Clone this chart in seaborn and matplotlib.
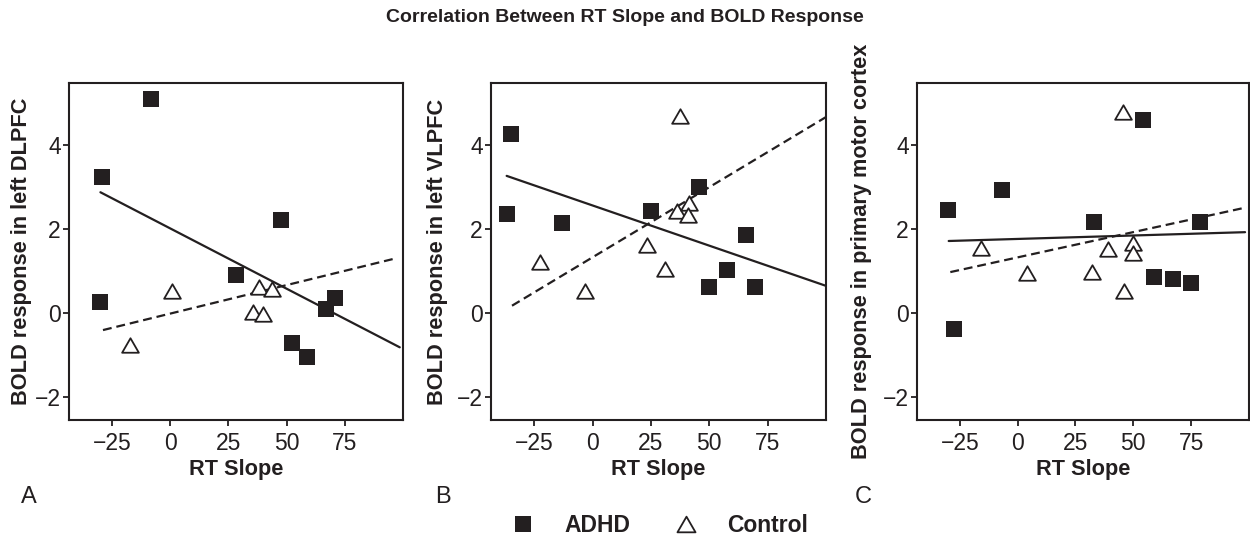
import numpy as np
import pandas as pd
import matplotlib
matplotlib.use('Agg')
import matplotlib.pyplot as plt
from matplotlib.lines import Line2D
from matplotlib.path import Path
import seaborn as sns

# values
# A: left DLPFC
adhd_x_a = [-8.3, -29.3, -30.3, 28.1, 47.4, 52.3, 58.9, 67.1, 70.7]
adhd_y_a = [5.11, 3.24, 0.26, 0.91, 2.21, -0.71, -1.05, 0.10, 0.36]
ctrl_x_a = [-17.1, 0.7, 38.3, 43.6, 35.7, 40.0]
ctrl_y_a = [-0.75, 0.54, 0.63, 0.58, 0.04, -0.02]
adhd_fit_x_a = [-30.0, 98.6]
adhd_fit_y_a = [2.88, -0.81]
ctrl_fit_x_a = [-28.9, 97.1]
ctrl_fit_y_a = [-0.40, 1.31]

# B: left VLPFC
adhd_x_b = [-35.0, -36.7, -12.9, 25.0, 45.8, 65.8, 57.8, 49.9, 69.8]
adhd_y_b = [4.27, 2.36, 2.14, 2.44, 3.00, 1.87, 1.02, 0.63, 0.63]
ctrl_x_b = [37.4, -22.4, -3.3, 23.3, 31.2, 36.3, 41.4, 41.0]
ctrl_y_b = [4.70, 1.21, 0.52, 1.63, 1.06, 2.44, 2.62, 2.34]
adhd_fit_x_b = [-36.8, 99.6]
adhd_fit_y_b = [3.27, 0.66]
ctrl_fit_x_b = [-34.5, 100.0]
ctrl_fit_y_b = [0.18, 4.67]

# C: primary motor cortex
adhd_x_c = [-30.3, -27.7, -6.7, 32.9, 54.1, 78.8, 59.0, 67.0, 74.9]
adhd_y_c = [2.46, -0.38, 2.94, 2.18, 4.60, 2.18, 0.87, 0.81, 0.71]
ctrl_x_c = [45.5, -15.8, 3.9, 32.0, 39.2, 49.8, 49.8, 45.9]
ctrl_y_c = [4.78, 1.55, 0.97, 0.98, 1.53, 1.67, 1.43, 0.54]
adhd_fit_x_c = [-29.8, 98.3]
adhd_fit_y_c = [1.72, 1.93]
ctrl_fit_x_c = [-29.1, 98.9]
ctrl_fit_y_c = [0.98, 2.52]

panels = [
    ('A', 'BOLD response in left DLPFC', adhd_x_a, adhd_y_a, ctrl_x_a, ctrl_y_a,
     adhd_fit_x_a, adhd_fit_y_a, ctrl_fit_x_a, ctrl_fit_y_a),
    ('B', 'BOLD response in left VLPFC', adhd_x_b, adhd_y_b, ctrl_x_b, ctrl_y_b,
     adhd_fit_x_b, adhd_fit_y_b, ctrl_fit_x_b, ctrl_fit_y_b),
    ('C', 'BOLD response in primary motor cortex', adhd_x_c, adhd_y_c, ctrl_x_c, ctrl_y_c,
     adhd_fit_x_c, adhd_fit_y_c, ctrl_fit_x_c, ctrl_fit_y_c),
]

sns.set_style('white')
plt.rcParams['font.family'] = ['Liberation Sans', 'DejaVu Sans']
dark = '#231f20'

# open triangle with equal sides
tri = Path([(-1, -0.866), (1, -0.866), (0, 0.866), (-1, -0.866)], closed=True)

fig = plt.figure(figsize=(12.5, 5.39), dpi=100)
W, H = 1250, 539
ax_left = [69, 491, 917]
ax_width = [334, 335, 332]
letter_x = [29, 443, 863]
ylab_x = [22, 438, 862]

for i, (letter, ylab, ax_, ay_, cx_, cy_, afx, afy, cfx, cfy) in enumerate(panels):
    ax = fig.add_axes([ax_left[i] / W, 1 - 420 / H, ax_width[i] / W, 337 / H])
    adhd = pd.DataFrame({'x': ax_, 'y': ay_})
    ctrl = pd.DataFrame({'x': cx_, 'y': cy_})
    sns.lineplot(x=afx, y=afy, ax=ax, color=dark, lw=1.6, legend=False)
    sns.lineplot(x=cfx, y=cfy, ax=ax, color=dark, lw=1.6, linestyle=(0, (4, 2.2)), legend=False)
    sns.scatterplot(data=adhd, x='x', y='y', ax=ax, marker='s', s=117, color=dark,
                    linewidth=0, zorder=3)
    sns.scatterplot(data=ctrl, x='x', y='y', ax=ax, marker=tri, s=145, color='white',
                    edgecolor=dark, linewidth=1.3, zorder=4)
    ax.set_xlim(-43.5, 100)
    ax.set_ylim(-2.54, 5.48)
    ax.set_xticks([-25, 0, 25, 50, 75])
    ax.set_yticks([-2, 0, 2, 4])
    ax.set_xticklabels(['\u221225', '0', '25', '50', '75'])
    ax.set_yticklabels(['\u22122', '0', '2', '4'])
    ax.tick_params(axis='both', direction='out', length=4.5, width=1.3, color=dark,
                   labelsize=16.5, labelcolor=dark, bottom=True, left=True)
    ax.tick_params(axis='x', pad=4.5)
    ax.tick_params(axis='y', pad=1.5)
    for sp in ax.spines.values():
        sp.set_linewidth(1.5)
        sp.set_color(dark)
    ax.set_xlabel('RT Slope', fontsize=15.7, weight='bold', color=dark, va='center')
    ax.xaxis.set_label_coords(0.5, (420 - 470) / 337)
    ax.set_ylabel(ylab, fontsize=15.7, weight='bold', color=dark, va='center')
    ax.yaxis.set_label_coords((ylab_x[i] - ax_left[i]) / ax_width[i], 0.5)
    fig.text(letter_x[i] / W, 1 - 497 / H, letter, ha='center', va='center',
             fontsize=17, color=dark)

fig.text(0.5, 1 - 17 / H, 'Correlation Between RT Slope and BOLD Response',
         ha='center', va='center', fontsize=14, weight='bold', color=dark)

handles = [
    Line2D([], [], ls='', marker='s', markersize=12, color=dark, markeredgewidth=0),
    Line2D([], [], ls='', marker=tri, markersize=13, markerfacecolor='white',
           markeredgecolor=dark, markeredgewidth=1.3),
]
fig.legend(handles=handles, labels=['ADHD', 'Control'], ncol=2, frameon=False,
           loc='center', bbox_to_anchor=(660 / W, 1 - 526 / H),
           prop={'weight': 'bold', 'size': 16.5}, handlelength=1.0,
           handletextpad=1.3, columnspacing=1.95, labelcolor=dark)

fig.savefig('out.png', dpi=100)
